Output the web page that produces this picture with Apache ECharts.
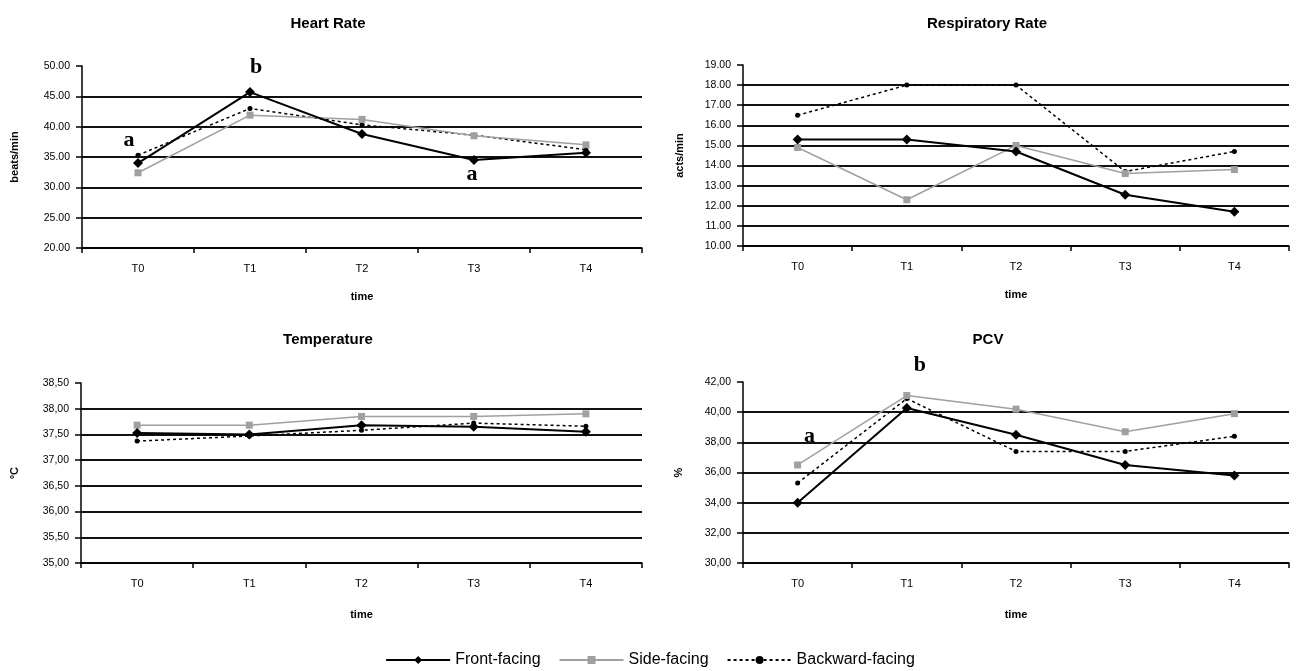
<!DOCTYPE html>
<html>
<head>
<meta charset="utf-8">
<script src="https://cdn.jsdelivr.net/npm/echarts@6/dist/echarts.min.js"></script>
<style>html,body{margin:0;padding:0;background:#fff}#c{width:1300px;height:671px}</style>
</head>
<body>
<div id="c"></div>
<script>
const categories = ['T0', 'T1', 'T2', 'T3', 'T4'];
const seriesNames = ['Front-facing', 'Side-facing', 'Backward-facing'];

const hrFront = [34.0, 45.7, 38.8, 34.5, 35.7];
const hrSide  = [32.4, 41.9, 41.2, 38.5, 37.0];
const hrBack  = [35.3, 43.0, 40.3, 38.6, 36.2];

const rrFront = [15.3, 15.3, 14.7, 12.55, 11.7];
const rrSide  = [14.9, 12.3, 15.0, 13.6, 13.8];
const rrBack  = [16.5, 18.0, 18.0, 13.7, 14.7];

const tFront = [37.53, 37.50, 37.68, 37.65, 37.55];
const tSide  = [37.68, 37.68, 37.85, 37.85, 37.90];
const tBack  = [37.37, 37.47, 37.58, 37.72, 37.66];

const pcvFront = [34.0, 40.27, 38.5, 36.5, 35.8];
const pcvSide  = [36.5, 41.1, 40.2, 38.7, 39.9];
const pcvBack  = [35.3, 40.9, 37.4, 37.4, 38.4];

const panelTitles = ['Heart Rate', 'Respiratory Rate', 'Temperature', 'PCV'];
const yNames = ['beats/min', 'acts/min', 'ºC', '%'];
const yRanges = [[20, 50, 5], [10, 19, 1], [35, 38.5, 0.5], [30, 42, 2]];
const decimalSep = ['.', '.', ',', ','];

// significance letters: panel, category index, text (attached to Front-facing points)
const letterPanels = [0, 0, 0, 3, 3];
const letterCats = [0, 1, 3, 0, 1];
const letterTexts = ['a', 'b', 'a', 'a', 'b'];

const panels = [
  [hrFront, hrSide, hrBack],
  [rrFront, rrSide, rrBack],
  [tFront, tSide, tBack],
  [pcvFront, pcvSide, pcvBack]
];

// layout / style
const grids = [
  {left: 82, top: 66, width: 560, height: 182},
  {left: 743, top: 65, width: 546, height: 181},
  {left: 81, top: 383, width: 561, height: 180},
  {left: 743, top: 382, width: 546, height: 181}
];
const titlePos = [[323, 11], [982, 11], [323, 327], [983, 327]];
const letterOffsets = [[-9, -23], [6, -25], [-2, 14], [12, -66], [13, -43]];
const xNameGap = [43, 43, 46, 46];
const yNameGap = [62, 58, 61, 59];

const FONT = '"Liberation Sans", Arial, sans-serif';

const seriesStyles = [
  {color: '#000', width: 2, type: 'solid', symbol: 'diamond', size: 10},
  {color: '#a0a0a0', width: 1.5, type: 'solid', symbol: 'rect', size: 7},
  {color: '#000', width: 1.5, type: [3, 3], symbol: 'circle', size: 5}
];

const option = {
  animation: false,
  backgroundColor: '#fff',
  title: panelTitles.map((t, i) => ({
    text: t, left: titlePos[i][0], top: titlePos[i][1], textAlign: 'center',
    textStyle: {fontFamily: FONT, fontSize: 15, fontWeight: 'bold', color: '#000'}
  })),
  legend: {
    data: seriesNames, top: 647, left: 'center', itemWidth: 64, itemHeight: 10, itemGap: 18,
    textStyle: {fontFamily: FONT, fontSize: 16, color: '#000'}
  },
  grid: grids.map(g => Object.assign({containLabel: false}, g)),
  xAxis: grids.map((g, i) => ({
    type: 'category', gridIndex: i, data: categories, boundaryGap: true,
    name: 'time', nameLocation: 'middle', nameGap: xNameGap[i],
    nameTextStyle: {fontFamily: FONT, fontSize: 11, fontWeight: 'bold', color: '#000'},
    axisLine: {lineStyle: {color: '#000', width: 1.5}},
    axisTick: {show: true, alignWithLabel: false, length: 5, lineStyle: {color: '#000', width: 1.5}},
    axisLabel: {fontFamily: FONT, fontSize: 11, color: '#000', margin: 15},
    splitLine: {show: false}
  })),
  yAxis: grids.map((g, i) => {
    const [mn, mx, step] = yRanges[i];
    const n = Math.round((mx - mn) / step) + 1;
    const splitColors = [];
    for (let k = 0; k < n; k++) splitColors.push(k === n - 1 ? 'rgba(0,0,0,0)' : '#111');
    return {
      type: 'value', gridIndex: i, min: mn, max: mx, interval: step,
      name: yNames[i], nameLocation: 'middle', nameGap: yNameGap[i], nameRotate: 90,
      nameTextStyle: {fontFamily: FONT, fontSize: 11, fontWeight: 'bold', color: '#000'},
      axisLine: {show: true, lineStyle: {color: '#000', width: 1.5}},
      axisTick: {show: true, length: 6, lineStyle: {color: '#000', width: 1.5}},
      axisLabel: {
        fontFamily: FONT, fontSize: 10.5, color: '#000', margin: 12,
        formatter: v => v.toFixed(2).replace('.', decimalSep[i])
      },
      splitLine: {show: true, lineStyle: {color: splitColors, width: 1.8}}
    };
  }),
  series: []
};

panels.forEach((arrs, p) => {
  arrs.forEach((arr, s) => {
    const st = seriesStyles[s];
    const data = arr.map((v, ci) => {
      const idx = letterPanels.findIndex((lp, k) => lp === p && letterCats[k] === ci);
      if (s === 0 && idx >= 0) {
        return {
          value: v,
          label: {
            show: true, position: 'inside', formatter: letterTexts[idx], offset: letterOffsets[idx],
            fontFamily: '"Liberation Serif", "Times New Roman", serif', fontSize: 22, fontWeight: 'bold', color: '#000'
          }
        };
      }
      return v;
    });
    option.series.push({
      name: seriesNames[s], type: 'line', xAxisIndex: p, yAxisIndex: p, data: data,
      z: 3 - s,
      symbol: st.symbol, symbolSize: st.size, showSymbol: true,
      itemStyle: {color: st.color, borderWidth: 0},
      lineStyle: {color: st.color, width: st.width, type: st.type},
      label: {show: false},
      emphasis: {disabled: true}
    });
  });
});

const chart = echarts.init(document.getElementById('c'), null, {renderer: 'canvas'});
chart.setOption(option);
</script>
</body>
</html>
